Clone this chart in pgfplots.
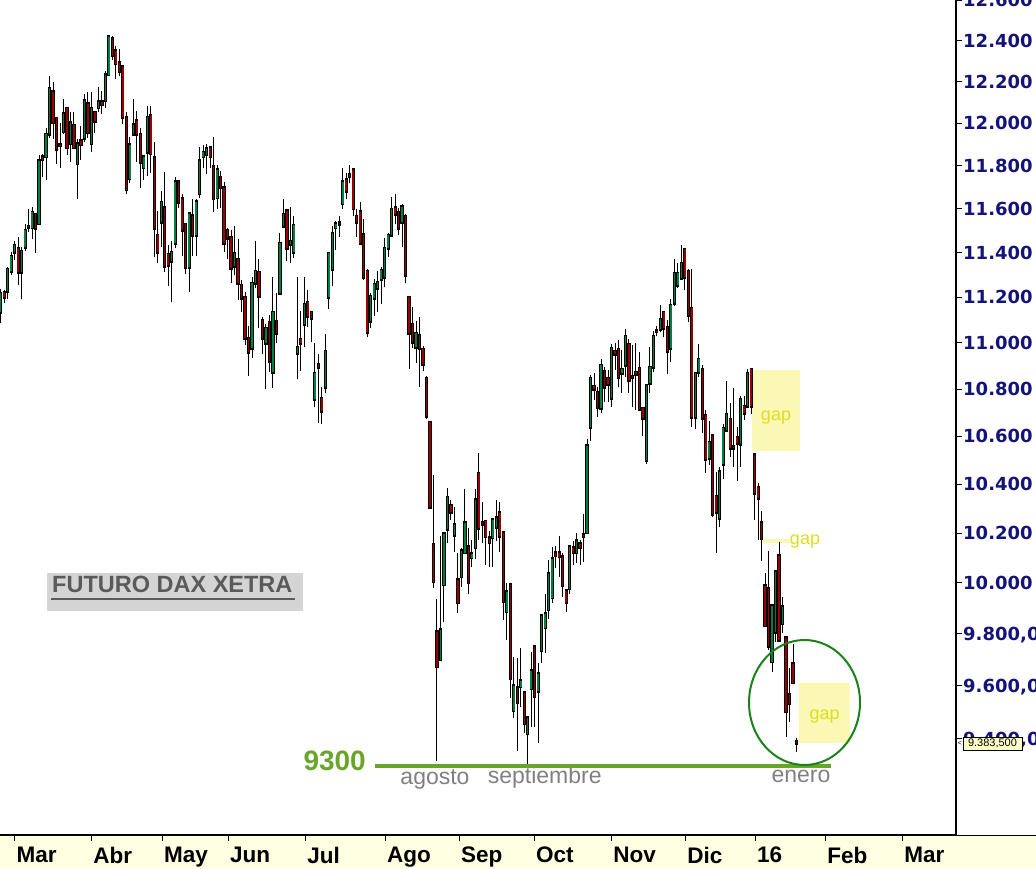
\documentclass[border=0pt]{standalone}
\usepackage{pgfplots}
\pgfplotsset{compat=1.18}
\usepackage{pgfplotstable}
\usetikzlibrary{backgrounds}
\usepackage{fontspec}
\setmainfont{Liberation Sans}
\newfontfamily\ytfont{DejaVu Sans}

\definecolor{cgreen}{RGB}{0,128,64}
\definecolor{cred}{RGB}{155,0,0}
\definecolor{strip}{RGB}{255,255,225}
\definecolor{gapfill}{RGB}{250,248,180}
\definecolor{gaptext}{RGB}{222,222,30}
\definecolor{green9300}{RGB}{104,166,42}
\definecolor{circlecol}{RGB}{25,130,25}
\definecolor{navyc}{RGB}{20,20,120}
\definecolor{labelgray}{RGB}{128,128,128}
\definecolor{boxgray}{RGB}{212,212,212}
\definecolor{boxtext}{RGB}{90,90,90}
\definecolor{tipfill}{RGB}{255,255,200}

% wicks: for each session (index x) the low and the high, then a break
\pgfplotstableread[row sep=\\]{
x y \\
0 11085 \\ 0 11235 \\ 0 nan \\
1 11173 \\ 1 11231 \\ 1 nan \\
2 11191 \\ 2 11334 \\ 2 nan \\
3 11298 \\ 3 11401 \\ 3 nan \\
4 11365 \\ 4 11455 \\ 4 nan \\
5 11253 \\ 5 11469 \\ 5 nan \\
6 11191 \\ 6 11424 \\ 6 nan \\
7 11406 \\ 7 11532 \\ 7 nan \\
8 11492 \\ 8 11601 \\ 8 nan \\
9 11460 \\ 9 11610 \\ 9 nan \\
10 11397 \\ 10 11578 \\ 10 nan \\
11 11528 \\ 11 11852 \\ 11 nan \\
12 11749 \\ 12 11857 \\ 12 nan \\
13 11735 \\ 13 11980 \\ 13 nan \\
14 11928 \\ 14 12225 \\ 14 nan \\
15 11923 \\ 15 12200 \\ 15 nan \\
16 11810 \\ 16 12032 \\ 16 nan \\
17 11787 \\ 17 12004 \\ 17 nan \\
18 11947 \\ 18 12118 \\ 18 nan \\
19 11852 \\ 19 12075 \\ 19 nan \\
20 11819 \\ 20 12052 \\ 20 nan \\
21 11880 \\ 21 12052 \\ 21 nan \\
22 11647 \\ 22 11923 \\ 22 nan \\
23 11829 \\ 23 11985 \\ 23 nan \\
24 11913 \\ 24 12138 \\ 24 nan \\
25 11932 \\ 25 12152 \\ 25 nan \\
26 11866 \\ 26 12148 \\ 26 nan \\
27 11956 \\ 27 12055 \\ 27 nan \\
28 12056 \\ 28 12176 \\ 28 nan \\
29 12047 \\ 29 12157 \\ 29 nan \\
30 12075 \\ 30 12254 \\ 30 nan \\
31 12230 \\ 31 12429 \\ 31 nan \\
32 12307 \\ 32 12425 \\ 32 nan \\
33 12215 \\ 33 12375 \\ 33 nan \\
34 12225 \\ 34 12361 \\ 34 nan \\
35 11999 \\ 35 12283 \\ 35 nan \\
36 11666 \\ 36 12052 \\ 36 nan \\
37 11717 \\ 37 11937 \\ 37 nan \\
38 11942 \\ 38 12114 \\ 38 nan \\
39 11815 \\ 39 12061 \\ 39 nan \\
40 11698 \\ 40 11980 \\ 40 nan \\
41 11735 \\ 41 11848 \\ 41 nan \\
42 11754 \\ 42 12085 \\ 42 nan \\
43 11768 \\ 43 12085 \\ 43 nan \\
44 11378 \\ 44 11913 \\ 44 nan \\
45 11351 \\ 45 11592 \\ 45 nan \\
46 11424 \\ 46 11680 \\ 46 nan \\
47 11311 \\ 47 11772 \\ 47 nan \\
48 11249 \\ 48 11433 \\ 48 nan \\
49 11177 \\ 49 11451 \\ 49 nan \\
50 11419 \\ 50 11745 \\ 50 nan \\
51 11606 \\ 51 11731 \\ 51 nan \\
52 11383 \\ 52 11666 \\ 52 nan \\
53 11302 \\ 53 11532 \\ 53 nan \\
54 11222 \\ 54 11587 \\ 54 nan \\
55 11383 \\ 55 11647 \\ 55 nan \\
56 11383 \\ 56 11643 \\ 56 nan \\
57 11652 \\ 57 11890 \\ 57 nan \\
58 11787 \\ 58 11895 \\ 58 nan \\
59 11763 \\ 59 11904 \\ 59 nan \\
60 11791 \\ 60 11890 \\ 60 nan \\
61 11587 \\ 61 11937 \\ 61 nan \\
62 11597 \\ 62 11805 \\ 62 nan \\
63 11606 \\ 63 11777 \\ 63 nan \\
64 11401 \\ 64 11722 \\ 64 nan \\
65 11369 \\ 65 11514 \\ 65 nan \\
66 11262 \\ 66 11501 \\ 66 nan \\
67 11298 \\ 67 11519 \\ 67 nan \\
68 11186 \\ 68 11460 \\ 68 nan \\
69 11133 \\ 69 11275 \\ 69 nan \\
70 10988 \\ 70 11222 \\ 70 nan \\
71 10854 \\ 71 11072 \\ 71 nan \\
72 10932 \\ 72 11289 \\ 72 nan \\
73 11240 \\ 73 11455 \\ 73 nan \\
74 11063 \\ 74 11369 \\ 74 nan \\
75 10949 \\ 75 11111 \\ 75 nan \\
76 10798 \\ 76 11080 \\ 76 nan \\
77 10871 \\ 77 11120 \\ 77 nan \\
78 10803 \\ 78 11289 \\ 78 nan \\
79 10997 \\ 79 11218 \\ 79 nan \\
80 11213 \\ 80 11487 \\ 80 nan \\
81 11519 \\ 81 11643 \\ 81 nan \\
82 11360 \\ 82 11597 \\ 82 nan \\
83 11351 \\ 83 11610 \\ 83 nan \\
84 11374 \\ 84 11565 \\ 84 nan \\
85 10841 \\ 85 11289 \\ 85 nan \\
86 10876 \\ 86 11138 \\ 86 nan \\
87 10980 \\ 87 11289 \\ 87 nan \\
88 11067 \\ 88 11231 \\ 88 nan \\
89 11001 \\ 89 11135 \\ 89 nan \\
90 10722 \\ 90 10997 \\ 90 nan \\
91 10654 \\ 91 10949 \\ 91 nan \\
92 10650 \\ 92 10807 \\ 92 nan \\
93 10782 \\ 93 11036 \\ 93 nan \\
94 11146 \\ 94 11399 \\ 94 nan \\
95 11249 \\ 95 11519 \\ 95 nan \\
96 11410 \\ 96 11546 \\ 96 nan \\
97 11473 \\ 97 11569 \\ 97 nan \\
98 11601 \\ 98 11791 \\ 98 nan \\
99 11647 \\ 99 11768 \\ 99 nan \\
100 11717 \\ 100 11805 \\ 100 nan \\
101 11565 \\ 101 11785 \\ 101 nan \\
102 11473 \\ 102 11597 \\ 102 nan \\
103 11433 \\ 103 11629 \\ 103 nan \\
104 11275 \\ 104 11551 \\ 104 nan \\
105 11023 \\ 105 11325 \\ 105 nan \\
106 11063 \\ 106 11218 \\ 106 nan \\
107 11115 \\ 107 11280 \\ 107 nan \\
108 11133 \\ 108 11316 \\ 108 nan \\
109 11168 \\ 109 11334 \\ 109 nan \\
110 11244 \\ 110 11464 \\ 110 nan \\
111 11378 \\ 111 11487 \\ 111 nan \\
112 11473 \\ 112 11656 \\ 112 nan \\
113 11532 \\ 113 11670 \\ 113 nan \\
114 11478 \\ 114 11606 \\ 114 nan \\
115 11424 \\ 115 11620 \\ 115 nan \\
116 11262 \\ 116 11578 \\ 116 nan \\
117 10884 \\ 117 11204 \\ 117 nan \\
118 10975 \\ 118 11155 \\ 118 nan \\
119 10910 \\ 119 11094 \\ 119 nan \\
120 10807 \\ 120 11111 \\ 120 nan \\
121 10876 \\ 121 10984 \\ 121 nan \\
122 10671 \\ 122 10854 \\ 122 nan \\
123 10301 \\ 123 10658 \\ 123 nan \\
124 9980 \\ 124 10437 \\ 124 nan \\
125 9316 \\ 125 9937 \\ 125 nan \\
126 9699 \\ 126 10188 \\ 126 nan \\
127 9846 \\ 127 10204 \\ 127 nan \\
128 10160 \\ 128 10383 \\ 128 nan \\
129 10253 \\ 129 10334 \\ 129 nan \\
130 10124 \\ 130 10305 \\ 130 nan \\
131 9882 \\ 131 10120 \\ 131 nan \\
132 9984 \\ 132 10140 \\ 132 nan \\
133 10120 \\ 133 10379 \\ 133 nan \\
134 9957 \\ 134 10220 \\ 134 nan \\
135 10064 \\ 135 10172 \\ 135 nan \\
136 10096 \\ 136 10379 \\ 136 nan \\
137 10172 \\ 137 10529 \\ 137 nan \\
138 10160 \\ 138 10326 \\ 138 nan \\
139 10072 \\ 139 10250 \\ 139 nan \\
140 10064 \\ 140 10208 \\ 140 nan \\
141 10064 \\ 141 10261 \\ 141 nan \\
142 10168 \\ 142 10334 \\ 142 nan \\
143 10124 \\ 143 10326 \\ 143 nan \\
144 9854 \\ 144 10202 \\ 144 nan \\
145 9776 \\ 145 10000 \\ 145 nan \\
146 9555 \\ 146 9994 \\ 146 nan \\
147 9479 \\ 147 9711 \\ 147 nan \\
148 9356 \\ 148 9707 \\ 148 nan \\
149 9520 \\ 149 9746 \\ 149 nan \\
150 9423 \\ 150 9576 \\ 150 nan \\
151 9301 \\ 151 9481 \\ 151 nan \\
152 9445 \\ 152 9730 \\ 152 nan \\
153 9445 \\ 153 9752 \\ 153 nan \\
154 9386 \\ 154 9688 \\ 154 nan \\
155 9688 \\ 155 9872 \\ 155 nan \\
156 9726 \\ 156 9956 \\ 156 nan \\
157 9858 \\ 157 10092 \\ 157 nan \\
158 9921 \\ 158 10144 \\ 158 nan \\
159 10060 \\ 159 10148 \\ 159 nan \\
160 10024 \\ 160 10188 \\ 160 nan \\
161 9945 \\ 161 10120 \\ 161 nan \\
162 9886 \\ 162 9970 \\ 162 nan \\
163 9957 \\ 163 10148 \\ 163 nan \\
164 10072 \\ 164 10168 \\ 164 nan \\
165 10080 \\ 165 10200 \\ 165 nan \\
166 10072 \\ 166 10172 \\ 166 nan \\
167 10084 \\ 167 10277 \\ 167 nan \\
168 10200 \\ 168 10587 \\ 168 nan \\
169 10579 \\ 169 10858 \\ 169 nan \\
170 10752 \\ 170 10867 \\ 170 nan \\
171 10680 \\ 171 10807 \\ 171 nan \\
172 10697 \\ 172 10928 \\ 172 nan \\
173 10743 \\ 173 10893 \\ 173 nan \\
174 10743 \\ 174 10880 \\ 174 nan \\
175 10722 \\ 175 10993 \\ 175 nan \\
176 10880 \\ 176 10997 \\ 176 nan \\
177 10807 \\ 177 11010 \\ 177 nan \\
178 10782 \\ 178 10967 \\ 178 nan \\
179 10850 \\ 179 11058 \\ 179 nan \\
180 10782 \\ 180 11014 \\ 180 nan \\
181 10722 \\ 181 10988 \\ 181 nan \\
182 10709 \\ 182 10997 \\ 182 nan \\
183 10709 \\ 183 10958 \\ 183 nan \\
184 10600 \\ 184 10720 \\ 184 nan \\
185 10483 \\ 185 10820 \\ 185 nan \\
186 10782 \\ 186 10980 \\ 186 nan \\
187 10871 \\ 187 11050 \\ 187 nan \\
188 11027 \\ 188 11072 \\ 188 nan \\
189 11045 \\ 189 11164 \\ 189 nan \\
190 11023 \\ 190 11138 \\ 190 nan \\
191 10863 \\ 191 11098 \\ 191 nan \\
192 10915 \\ 192 11191 \\ 192 nan \\
193 11160 \\ 193 11369 \\ 193 nan \\
194 11240 \\ 194 11351 \\ 194 nan \\
195 11280 \\ 195 11433 \\ 195 nan \\
196 11231 \\ 196 11419 \\ 196 nan \\
197 11089 \\ 197 11325 \\ 197 nan \\
198 10637 \\ 198 11325 \\ 198 nan \\
199 10629 \\ 199 10867 \\ 199 nan \\
200 10850 \\ 200 10993 \\ 200 nan \\
201 10612 \\ 201 10901 \\ 201 nan \\
202 10445 \\ 202 10709 \\ 202 nan \\
203 10479 \\ 203 10663 \\ 203 nan \\
204 10265 \\ 204 10604 \\ 204 nan \\
205 10120 \\ 205 10450 \\ 205 nan \\
206 10224 \\ 206 10470 \\ 206 nan \\
207 10420 \\ 207 10650 \\ 207 nan \\
208 10620 \\ 208 10833 \\ 208 nan \\
209 10512 \\ 209 10739 \\ 209 nan \\
210 10470 \\ 210 10803 \\ 210 nan \\
211 10412 \\ 211 10637 \\ 211 nan \\
212 10470 \\ 212 10769 \\ 212 nan \\
213 10667 \\ 213 10769 \\ 213 nan \\
214 10726 \\ 214 10884 \\ 214 nan \\
215 10692 \\ 215 10884 \\ 215 nan \\
216 10253 \\ 216 10524 \\ 216 nan \\
217 10172 \\ 217 10404 \\ 217 nan \\
218 10088 \\ 218 10289 \\ 218 nan \\
219 9831 \\ 219 10040 \\ 219 nan \\
220 9738 \\ 220 10128 \\ 220 nan \\
221 9654 \\ 221 9909 \\ 221 nan \\
222 9769 \\ 222 10052 \\ 222 nan \\
223 9769 \\ 223 10164 \\ 223 nan \\
224 9804 \\ 224 9945 \\ 224 nan \\
225 9408 \\ 225 9784 \\ 225 nan \\
226 9464 \\ 226 9669 \\ 226 nan \\
227 9611 \\ 227 9761 \\ 227 nan \\
228 9349 \\ 228 9404 \\ 228 nan \\
}\wicks

% bodies: for each session the open and the close, then a break
\pgfplotstableread[row sep=\\]{
x y \\
0 11133 \\ 0 11218 \\ 0 nan \\
1 11222 \\ 1 11200 \\ 1 nan \\
2 11226 \\ 2 11325 \\ 2 nan \\
3 11316 \\ 3 11383 \\ 3 nan \\
4 11401 \\ 4 11433 \\ 4 nan \\
5 11419 \\ 5 11311 \\ 5 nan \\
6 11311 \\ 6 11406 \\ 6 nan \\
7 11424 \\ 7 11501 \\ 7 nan \\
8 11515 \\ 8 11520 \\ 8 nan \\
9 11514 \\ 9 11583 \\ 9 nan \\
10 11574 \\ 10 11510 \\ 10 nan \\
11 11532 \\ 11 11824 \\ 11 nan \\
12 11843 \\ 12 11829 \\ 12 nan \\
13 11843 \\ 13 11947 \\ 13 nan \\
14 11947 \\ 14 12167 \\ 14 nan \\
15 12152 \\ 15 12004 \\ 15 nan \\
16 12023 \\ 16 11876 \\ 16 nan \\
17 11899 \\ 17 11895 \\ 17 nan \\
18 11961 \\ 18 12047 \\ 18 nan \\
19 12071 \\ 19 11885 \\ 19 nan \\
20 11904 \\ 20 12004 \\ 20 nan \\
21 11990 \\ 21 11885 \\ 21 nan \\
22 11810 \\ 22 11904 \\ 22 nan \\
23 11918 \\ 23 11899 \\ 23 nan \\
24 11928 \\ 24 12109 \\ 24 nan \\
25 12094 \\ 25 11956 \\ 25 nan \\
26 11904 \\ 26 12071 \\ 26 nan \\
27 12052 \\ 27 12009 \\ 27 nan \\
28 12075 \\ 28 12104 \\ 28 nan \\
29 12104 \\ 29 12090 \\ 29 nan \\
30 12109 \\ 30 12234 \\ 30 nan \\
31 12234 \\ 31 12420 \\ 31 nan \\
32 12410 \\ 32 12327 \\ 32 nan \\
33 12351 \\ 33 12288 \\ 33 nan \\
34 12293 \\ 34 12249 \\ 34 nan \\
35 12273 \\ 35 12028 \\ 35 nan \\
36 12028 \\ 36 11689 \\ 36 nan \\
37 11740 \\ 37 11899 \\ 37 nan \\
38 11947 \\ 38 11994 \\ 38 nan \\
39 12013 \\ 39 11947 \\ 39 nan \\
40 11947 \\ 40 11815 \\ 40 nan \\
41 11791 \\ 41 11843 \\ 41 nan \\
42 11862 \\ 42 12028 \\ 42 nan \\
43 12037 \\ 43 11857 \\ 43 nan \\
44 11838 \\ 44 11510 \\ 44 nan \\
45 11478 \\ 45 11401 \\ 45 nan \\
46 11537 \\ 46 11629 \\ 46 nan \\
47 11606 \\ 47 11338 \\ 47 nan \\
48 11392 \\ 48 11342 \\ 48 nan \\
49 11360 \\ 49 11401 \\ 49 nan \\
50 11442 \\ 50 11726 \\ 50 nan \\
51 11726 \\ 51 11629 \\ 51 nan \\
52 11647 \\ 52 11501 \\ 52 nan \\
53 11528 \\ 53 11334 \\ 53 nan \\
54 11334 \\ 54 11578 \\ 54 nan \\
55 11569 \\ 55 11478 \\ 55 nan \\
56 11478 \\ 56 11633 \\ 56 nan \\
57 11670 \\ 57 11824 \\ 57 nan \\
58 11843 \\ 58 11862 \\ 58 nan \\
59 11852 \\ 59 11880 \\ 59 nan \\
60 11885 \\ 60 11843 \\ 60 nan \\
61 11796 \\ 61 11647 \\ 61 nan \\
62 11652 \\ 62 11782 \\ 62 nan \\
63 11745 \\ 63 11698 \\ 63 nan \\
64 11698 \\ 64 11442 \\ 64 nan \\
65 11501 \\ 65 11464 \\ 65 nan \\
66 11469 \\ 66 11329 \\ 66 nan \\
67 11338 \\ 67 11397 \\ 67 nan \\
68 11369 \\ 68 11262 \\ 68 nan \\
69 11253 \\ 69 11195 \\ 69 nan \\
70 11200 \\ 70 11019 \\ 70 nan \\
71 11019 \\ 71 10958 \\ 71 nan \\
72 10975 \\ 72 11262 \\ 72 nan \\
73 11262 \\ 73 11316 \\ 73 nan \\
74 11311 \\ 74 11204 \\ 74 nan \\
75 11098 \\ 75 11019 \\ 75 nan \\
76 10997 \\ 76 11063 \\ 76 nan \\
77 11089 \\ 77 10919 \\ 77 nan \\
78 10871 \\ 78 11133 \\ 78 nan \\
79 11094 \\ 79 11041 \\ 79 nan \\
80 11218 \\ 80 11442 \\ 80 nan \\
81 11519 \\ 81 11574 \\ 81 nan \\
82 11592 \\ 82 11419 \\ 82 nan \\
83 11437 \\ 83 11451 \\ 83 nan \\
84 11401 \\ 84 11524 \\ 84 nan \\
85 10954 \\ 85 10980 \\ 85 nan \\
86 11015 \\ 86 10997 \\ 86 nan \\
87 11080 \\ 87 11168 \\ 87 nan \\
88 11177 \\ 88 11115 \\ 88 nan \\
89 11133 \\ 89 11107 \\ 89 nan \\
90 10756 \\ 90 10867 \\ 90 nan \\
91 10906 \\ 91 10893 \\ 91 nan \\
92 10760 \\ 92 10705 \\ 92 nan \\
93 10807 \\ 93 10962 \\ 93 nan \\
94 11200 \\ 94 11397 \\ 94 nan \\
95 11325 \\ 95 11487 \\ 95 nan \\
96 11514 \\ 96 11532 \\ 96 nan \\
97 11530 \\ 97 11536 \\ 97 nan \\
98 11624 \\ 98 11726 \\ 98 nan \\
99 11735 \\ 99 11680 \\ 99 nan \\
100 11759 \\ 100 11749 \\ 100 nan \\
101 11782 \\ 101 11601 \\ 101 nan \\
102 11565 \\ 102 11537 \\ 102 nan \\
103 11587 \\ 103 11442 \\ 103 nan \\
104 11482 \\ 104 11289 \\ 104 nan \\
105 11316 \\ 105 11045 \\ 105 nan \\
106 11094 \\ 106 11204 \\ 106 nan \\
107 11195 \\ 107 11258 \\ 107 nan \\
108 11240 \\ 108 11267 \\ 108 nan \\
109 11280 \\ 109 11320 \\ 109 nan \\
110 11289 \\ 110 11419 \\ 110 nan \\
111 11419 \\ 111 11478 \\ 111 nan \\
112 11478 \\ 112 11597 \\ 112 nan \\
113 11606 \\ 113 11574 \\ 113 nan \\
114 11583 \\ 114 11510 \\ 114 nan \\
115 11537 \\ 115 11610 \\ 115 nan \\
116 11565 \\ 116 11298 \\ 116 nan \\
117 11200 \\ 117 11041 \\ 117 nan \\
118 11080 \\ 118 11001 \\ 118 nan \\
119 10980 \\ 119 11041 \\ 119 nan \\
120 11032 \\ 120 10975 \\ 120 nan \\
121 10971 \\ 121 10906 \\ 121 nan \\
122 10845 \\ 122 10684 \\ 122 nan \\
123 10658 \\ 123 10305 \\ 123 nan \\
124 10152 \\ 124 10004 \\ 124 nan \\
125 9807 \\ 125 9672 \\ 125 nan \\
126 9699 \\ 126 9815 \\ 126 nan \\
127 9992 \\ 127 10196 \\ 127 nan \\
128 10216 \\ 128 10346 \\ 128 nan \\
129 10313 \\ 129 10285 \\ 129 nan \\
130 10192 \\ 130 10232 \\ 130 nan \\
131 10012 \\ 131 9921 \\ 131 nan \\
132 10024 \\ 132 10128 \\ 132 nan \\
133 10120 \\ 133 10240 \\ 133 nan \\
134 10144 \\ 134 10000 \\ 134 nan \\
135 10100 \\ 135 10116 \\ 135 nan \\
136 10140 \\ 136 10334 \\ 136 nan \\
137 10445 \\ 137 10220 \\ 137 nan \\
138 10244 \\ 138 10236 \\ 138 nan \\
139 10248 \\ 139 10184 \\ 139 nan \\
140 10180 \\ 140 10160 \\ 140 nan \\
141 10180 \\ 141 10253 \\ 141 nan \\
142 10224 \\ 142 10261 \\ 142 nan \\
143 10281 \\ 143 10188 \\ 143 nan \\
144 10200 \\ 144 9925 \\ 144 nan \\
145 9886 \\ 145 9964 \\ 145 nan \\
146 9992 \\ 146 9627 \\ 146 nan \\
147 9505 \\ 147 9600 \\ 147 nan \\
148 9593 \\ 148 9536 \\ 148 nan \\
149 9596 \\ 149 9619 \\ 149 nan \\
150 9574 \\ 150 9457 \\ 150 nan \\
151 9419 \\ 151 9479 \\ 151 nan \\
152 9589 \\ 152 9657 \\ 152 nan \\
153 9750 \\ 153 9558 \\ 153 nan \\
154 9578 \\ 154 9646 \\ 154 nan \\
155 9734 \\ 155 9870 \\ 155 nan \\
156 9823 \\ 156 9878 \\ 156 nan \\
157 9894 \\ 157 10036 \\ 157 nan \\
158 9941 \\ 158 10096 \\ 158 nan \\
159 10120 \\ 159 10108 \\ 159 nan \\
160 10120 \\ 160 10104 \\ 160 nan \\
161 10104 \\ 161 9988 \\ 161 nan \\
162 9968 \\ 162 9921 \\ 162 nan \\
163 9976 \\ 163 10144 \\ 163 nan \\
164 10140 \\ 164 10120 \\ 164 nan \\
165 10120 \\ 165 10168 \\ 165 nan \\
166 10156 \\ 166 10140 \\ 166 nan \\
167 10192 \\ 167 10184 \\ 167 nan \\
168 10200 \\ 168 10558 \\ 168 nan \\
169 10637 \\ 169 10846 \\ 169 nan \\
170 10811 \\ 170 10798 \\ 170 nan \\
171 10786 \\ 171 10722 \\ 171 nan \\
172 10718 \\ 172 10901 \\ 172 nan \\
173 10876 \\ 173 10807 \\ 173 nan \\
174 10846 \\ 174 10820 \\ 174 nan \\
175 10760 \\ 175 10975 \\ 175 nan \\
176 10962 \\ 176 10949 \\ 176 nan \\
177 10971 \\ 177 10850 \\ 177 nan \\
178 10867 \\ 178 10884 \\ 178 nan \\
179 10901 \\ 179 11027 \\ 179 nan \\
180 10993 \\ 180 10837 \\ 180 nan \\
181 10854 \\ 181 10850 \\ 181 nan \\
182 10871 \\ 182 10863 \\ 182 nan \\
183 10889 \\ 183 10714 \\ 183 nan \\
184 10718 \\ 184 10675 \\ 184 nan \\
185 10499 \\ 185 10816 \\ 185 nan \\
186 10824 \\ 186 10893 \\ 186 nan \\
187 10893 \\ 187 11027 \\ 187 nan \\
188 11048 \\ 188 11052 \\ 188 nan \\
189 11058 \\ 189 11102 \\ 189 nan \\
190 11133 \\ 190 11063 \\ 190 nan \\
191 11067 \\ 191 10962 \\ 191 nan \\
192 10975 \\ 192 11164 \\ 192 nan \\
193 11173 \\ 193 11307 \\ 193 nan \\
194 11253 \\ 194 11307 \\ 194 nan \\
195 11284 \\ 195 11351 \\ 195 nan \\
196 11415 \\ 196 11289 \\ 196 nan \\
197 11316 \\ 197 11120 \\ 197 nan \\
198 11151 \\ 198 10680 \\ 198 nan \\
199 10680 \\ 199 10867 \\ 199 nan \\
200 10871 \\ 200 10928 \\ 200 nan \\
201 10884 \\ 201 10675 \\ 201 nan \\
202 10688 \\ 202 10503 \\ 202 nan \\
203 10508 \\ 203 10574 \\ 203 nan \\
204 10600 \\ 204 10277 \\ 204 nan \\
205 10350 \\ 205 10285 \\ 205 nan \\
206 10261 \\ 206 10450 \\ 206 nan \\
207 10483 \\ 207 10633 \\ 207 nan \\
208 10625 \\ 208 10692 \\ 208 nan \\
209 10671 \\ 209 10550 \\ 209 nan \\
210 10556 \\ 210 10550 \\ 210 nan \\
211 10595 \\ 211 10570 \\ 211 nan \\
212 10566 \\ 212 10756 \\ 212 nan \\
213 10726 \\ 213 10697 \\ 213 nan \\
214 10726 \\ 214 10867 \\ 214 nan \\
215 10884 \\ 215 10726 \\ 215 nan \\
216 10520 \\ 216 10363 \\ 216 nan \\
217 10387 \\ 217 10342 \\ 217 nan \\
218 10240 \\ 218 10176 \\ 218 nan \\
219 9988 \\ 219 9831 \\ 219 nan \\
220 9976 \\ 220 9753 \\ 220 nan \\
221 9692 \\ 221 9909 \\ 221 nan \\
222 9807 \\ 222 10044 \\ 222 nan \\
223 10108 \\ 223 9776 \\ 223 nan \\
224 9839 \\ 224 9905 \\ 224 nan \\
225 9784 \\ 225 9501 \\ 225 nan \\
226 9566 \\ 226 9532 \\ 226 nan \\
227 9684 \\ 227 9611 \\ 227 nan \\
228 9390 \\ 228 9383 \\ 228 nan \\
}\bodies

% rising sessions (close above open): open and close
\pgfplotstableread[row sep=\\]{
x y \\
0 11133 \\ 0 11218 \\ 0 nan \\
2 11226 \\ 2 11325 \\ 2 nan \\
3 11316 \\ 3 11383 \\ 3 nan \\
4 11401 \\ 4 11433 \\ 4 nan \\
6 11311 \\ 6 11406 \\ 6 nan \\
7 11424 \\ 7 11501 \\ 7 nan \\
9 11514 \\ 9 11583 \\ 9 nan \\
11 11532 \\ 11 11824 \\ 11 nan \\
13 11843 \\ 13 11947 \\ 13 nan \\
14 11947 \\ 14 12167 \\ 14 nan \\
18 11961 \\ 18 12047 \\ 18 nan \\
20 11904 \\ 20 12004 \\ 20 nan \\
22 11810 \\ 22 11904 \\ 22 nan \\
24 11928 \\ 24 12109 \\ 24 nan \\
26 11904 \\ 26 12071 \\ 26 nan \\
28 12075 \\ 28 12104 \\ 28 nan \\
30 12109 \\ 30 12234 \\ 30 nan \\
31 12234 \\ 31 12420 \\ 31 nan \\
37 11740 \\ 37 11899 \\ 37 nan \\
38 11947 \\ 38 11994 \\ 38 nan \\
41 11791 \\ 41 11843 \\ 41 nan \\
42 11862 \\ 42 12028 \\ 42 nan \\
46 11537 \\ 46 11629 \\ 46 nan \\
49 11360 \\ 49 11401 \\ 49 nan \\
50 11442 \\ 50 11726 \\ 50 nan \\
54 11334 \\ 54 11578 \\ 54 nan \\
56 11478 \\ 56 11633 \\ 56 nan \\
57 11670 \\ 57 11824 \\ 57 nan \\
58 11843 \\ 58 11862 \\ 58 nan \\
59 11852 \\ 59 11880 \\ 59 nan \\
62 11652 \\ 62 11782 \\ 62 nan \\
67 11338 \\ 67 11397 \\ 67 nan \\
72 10975 \\ 72 11262 \\ 72 nan \\
73 11262 \\ 73 11316 \\ 73 nan \\
76 10997 \\ 76 11063 \\ 76 nan \\
78 10871 \\ 78 11133 \\ 78 nan \\
80 11218 \\ 80 11442 \\ 80 nan \\
81 11519 \\ 81 11574 \\ 81 nan \\
83 11437 \\ 83 11451 \\ 83 nan \\
84 11401 \\ 84 11524 \\ 84 nan \\
85 10954 \\ 85 10980 \\ 85 nan \\
87 11080 \\ 87 11168 \\ 87 nan \\
90 10756 \\ 90 10867 \\ 90 nan \\
93 10807 \\ 93 10962 \\ 93 nan \\
94 11200 \\ 94 11397 \\ 94 nan \\
95 11325 \\ 95 11487 \\ 95 nan \\
96 11514 \\ 96 11532 \\ 96 nan \\
98 11624 \\ 98 11726 \\ 98 nan \\
106 11094 \\ 106 11204 \\ 106 nan \\
107 11195 \\ 107 11258 \\ 107 nan \\
108 11240 \\ 108 11267 \\ 108 nan \\
109 11280 \\ 109 11320 \\ 109 nan \\
110 11289 \\ 110 11419 \\ 110 nan \\
111 11419 \\ 111 11478 \\ 111 nan \\
112 11478 \\ 112 11597 \\ 112 nan \\
115 11537 \\ 115 11610 \\ 115 nan \\
119 10980 \\ 119 11041 \\ 119 nan \\
126 9699 \\ 126 9815 \\ 126 nan \\
127 9992 \\ 127 10196 \\ 127 nan \\
128 10216 \\ 128 10346 \\ 128 nan \\
130 10192 \\ 130 10232 \\ 130 nan \\
132 10024 \\ 132 10128 \\ 132 nan \\
133 10120 \\ 133 10240 \\ 133 nan \\
135 10100 \\ 135 10116 \\ 135 nan \\
136 10140 \\ 136 10334 \\ 136 nan \\
141 10180 \\ 141 10253 \\ 141 nan \\
142 10224 \\ 142 10261 \\ 142 nan \\
145 9886 \\ 145 9964 \\ 145 nan \\
147 9505 \\ 147 9600 \\ 147 nan \\
149 9596 \\ 149 9619 \\ 149 nan \\
151 9419 \\ 151 9479 \\ 151 nan \\
152 9589 \\ 152 9657 \\ 152 nan \\
154 9578 \\ 154 9646 \\ 154 nan \\
155 9734 \\ 155 9870 \\ 155 nan \\
156 9823 \\ 156 9878 \\ 156 nan \\
157 9894 \\ 157 10036 \\ 157 nan \\
158 9941 \\ 158 10096 \\ 158 nan \\
163 9976 \\ 163 10144 \\ 163 nan \\
165 10120 \\ 165 10168 \\ 165 nan \\
168 10200 \\ 168 10558 \\ 168 nan \\
169 10637 \\ 169 10846 \\ 169 nan \\
172 10718 \\ 172 10901 \\ 172 nan \\
175 10760 \\ 175 10975 \\ 175 nan \\
178 10867 \\ 178 10884 \\ 178 nan \\
179 10901 \\ 179 11027 \\ 179 nan \\
185 10499 \\ 185 10816 \\ 185 nan \\
186 10824 \\ 186 10893 \\ 186 nan \\
187 10893 \\ 187 11027 \\ 187 nan \\
189 11058 \\ 189 11102 \\ 189 nan \\
192 10975 \\ 192 11164 \\ 192 nan \\
193 11173 \\ 193 11307 \\ 193 nan \\
194 11253 \\ 194 11307 \\ 194 nan \\
195 11284 \\ 195 11351 \\ 195 nan \\
199 10680 \\ 199 10867 \\ 199 nan \\
200 10871 \\ 200 10928 \\ 200 nan \\
203 10508 \\ 203 10574 \\ 203 nan \\
206 10261 \\ 206 10450 \\ 206 nan \\
207 10483 \\ 207 10633 \\ 207 nan \\
208 10625 \\ 208 10692 \\ 208 nan \\
212 10566 \\ 212 10756 \\ 212 nan \\
214 10726 \\ 214 10867 \\ 214 nan \\
221 9692 \\ 221 9909 \\ 221 nan \\
222 9807 \\ 222 10044 \\ 222 nan \\
224 9839 \\ 224 9905 \\ 224 nan \\
}\upbodies

\begin{document}
\begin{tikzpicture}
\begin{axis}[
  scale only axis, width=956pt, height=835pt,
  xmin=-0.2, xmax=273.7,
  % logarithmic price scale, done as a coordinate transformation
  y coord trafo/.code={\pgfmathparse{ln(#1)}},
  y coord inv trafo/.code={\pgfmathparse{exp(#1)}},
  ymin=9048, ymax=12602,
  axis x line=bottom, axis y line=right,
  axis line style={-},
  x axis line style={line width=1.6pt},
  y axis line style={line width=1.1pt},
  tick align=outside, major tick length=6pt,
  xtick={3.95,25.9,46.2,65.1,87.2,110.1,131.3,152.8,174.9,196.1,216.1,236.2,258.3},
  xticklabels={Mar,Abr,May,Jun,Jul,Ago,Sep,Oct,Nov,Dic,16,Feb,Mar},
  xtick style={line width=0.8pt, black},
  ytick style={line width=0.8pt, black},
  xticklabel style={font=\fontsize{22.5}{22.5}\selectfont\bfseries, anchor=north west, inner sep=0pt, xshift=2pt, yshift=-6pt},
  ytick={9400,9600,9800,10000,10200,10400,10600,10800,11000,11200,11400,11600,11800,12000,12200,12400,12600},
  yticklabels={{9.400,00},{9.600,00},{9.800,00},10.000,10.200,10.400,10.600,10.800,11.000,11.200,11.400,11.600,11.800,12.000,12.200,12.400,12.600},
  yticklabel style={font=\ytfont\fontsize{18}{18}\selectfont\bfseries, text=navyc, anchor=base west, inner sep=0pt, xshift=1pt, yshift=-6.5pt},
  yminorticks=false, xminorticks=false,
  unbounded coords=jump,
  clip=true,
]
\coordinate (O) at (rel axis cs:0,0);
% wicks
\addplot[black, line width=1pt, mark=none] table[x=x, y=y] {\wicks};
% body outlines
\addplot[black, line width=3.2pt, line cap=rect, mark=none] table[x=x, y=y] {\bodies};
% falling bodies (all filled red, rising ones overdrawn in green)
\addplot[cred, line width=1.5pt, line cap=butt, mark=none] table[x=x, y=y] {\bodies};
\addplot[cgreen, line width=1.5pt, line cap=butt, mark=none] table[x=x, y=y] {\upbodies};
% 9300 support line
\addplot[green9300, line width=4pt, mark=none] coordinates {(107.2,9300) (237.9,9300)};
\end{axis}

% everything else, in pt, measured from the bottom-left corner of the picture
\begin{scope}[shift={(O)}, yshift=-33pt, x=1pt, y=1pt]
  \begin{scope}[on background layer]
    \fill[strip] (0,0) rectangle (1036,32.5);
    \fill[gapfill] (752,417) rectangle (800,498);
    \fill[gapfill] (761,325) rectangle (790,329);
    \fill[gapfill] (799,125) rectangle (850,185);
    \fill[boxgray] (46.7,257) rectangle (303,295);
  \end{scope}
  \draw[line width=0.8pt] (956,33) -- (1036,33);
  \node[anchor=base west, inner sep=0pt, text=boxtext, font=\fontsize{23.5}{23.5}\selectfont\bfseries] at (52,275) {FUTURO DAX XETRA};
  \draw[boxtext, line width=2.3pt] (51,269.2) -- (295,269.2);
  \node[anchor=base east, inner sep=0pt, text=green9300, font=\fontsize{28}{28}\selectfont\bfseries] at (366,98) {9300};
  \node[anchor=base, inner sep=0pt, text=labelgray, font=\fontsize{23}{23}\selectfont] at (435,84) {agosto};
  \node[anchor=base, inner sep=0pt, text=labelgray, font=\fontsize{23}{23}\selectfont] at (544.7,85) {septiembre};
  \node[anchor=base, inner sep=0pt, text=labelgray, font=\fontsize{23}{23}\selectfont] at (801,86) {enero};
  \node[anchor=base, inner sep=0pt, text=gaptext, font=\fontsize{18}{18}\selectfont] at (776,447) {gap};
  \node[anchor=base, inner sep=0pt, text=gaptext, font=\fontsize{18}{18}\selectfont] at (805,323) {gap};
  \node[anchor=base, inner sep=0pt, text=gaptext, font=\fontsize{18}{18}\selectfont] at (824.7,148.7) {gap};
  \draw[circlecol, line width=2pt] (804.5,165.5) ellipse [x radius=55.5, y radius=62.5];
  % price tooltip
  \draw[black, line width=0.6pt, fill=tipfill] (963,118) rectangle (1022,131);
  \node[inner sep=0pt, font=\fontsize{11}{11}\selectfont] at (992.5,124.5) {9.383,500};
  \node[inner sep=0pt, font=\fontsize{7}{7}\selectfont] at (960,124.5) {<};
\end{scope}
\pgfresetboundingbox
\useasboundingbox ([yshift=-33pt]O) rectangle ([xshift=1036pt,yshift=835pt]O);
\end{tikzpicture}
\end{document}
